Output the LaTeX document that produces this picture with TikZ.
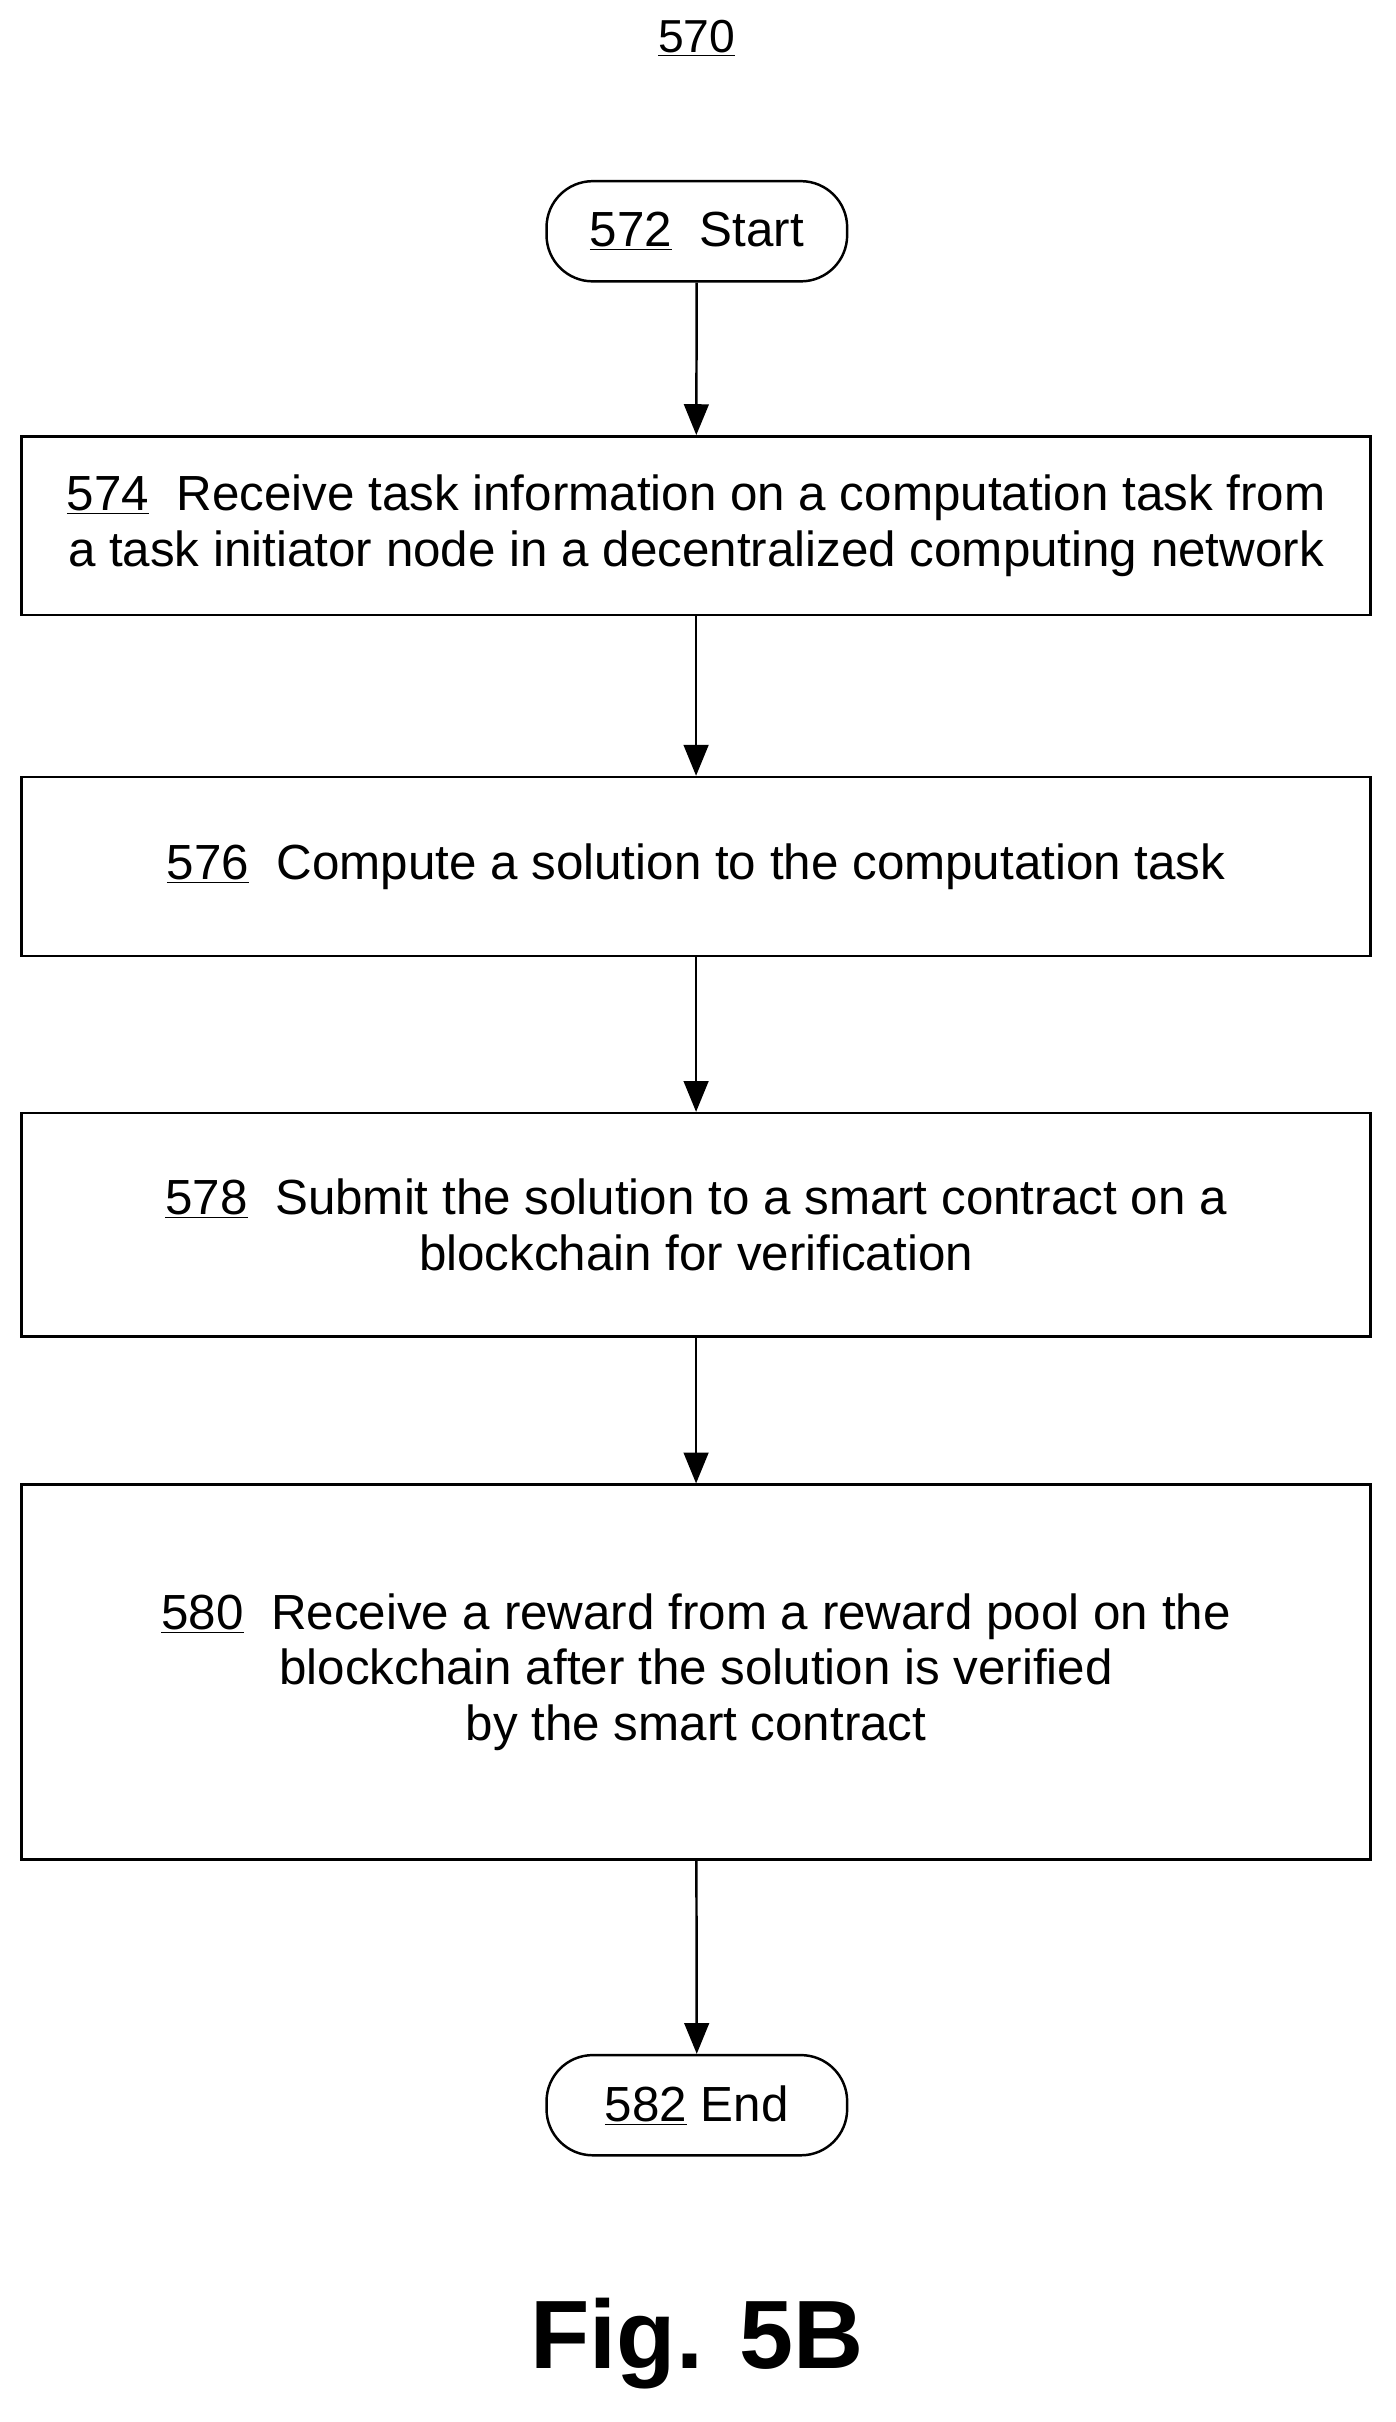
\documentclass[tikz,border=0pt]{standalone}
\usepackage{fontspec}
\setmainfont{Liberation Sans}
\usetikzlibrary{arrows.meta}
\begin{document}
\begin{tikzpicture}[x=1pt,y=-1pt,
  box/.style={draw,line width=1.6pt,inner sep=0pt,align=center,font=\fontsize{32}{36}\selectfont},
  term/.style={box,rounded corners=30pt},
  arr/.style={line width=1.6pt,-{Triangle[length=20pt,width=16pt]}}]
\useasboundingbox (0,0) rectangle (905,1571);
\node[font=\fontsize{30}{36}\selectfont] (t) at (452,25) {\underline{570}};
\node[term,minimum width=195pt,minimum height=65pt] (s) at (452,150) {\underline{572}\ \ Start};
\node[box,minimum width=875pt,minimum height=116pt] (a) at (451.5,341) {\underline{574}\ \ Receive task information on a computation task from\\a task initiator node in a decentralized computing network};
\node[box,minimum width=875pt,minimum height=116pt] (b) at (451.5,562) {\underline{576}\ \ Compute a solution to the computation task};
\node[box,minimum width=875pt,minimum height=145pt] (c) at (451.5,794.5) {\underline{578}\ \ Submit the solution to a smart contract on a\\blockchain for verification};
\node[box,minimum width=875pt,minimum height=243pt] (d) at (451.5,1084.5) {\underline{580}\ \ Receive a reward from a reward pool on the\\blockchain after the solution is verified\\by the smart contract};
\node[term,minimum width=195pt,minimum height=65pt] (e) at (452,1365.5) {\underline{582} End};
\node[font=\bfseries\fontsize{63}{70}\selectfont] (f) at (452,1520) {Fig. 5B};
\draw[arr] (s) -- (a);
\draw[arr] (a) -- (b);
\draw[arr] (b) -- (c);
\draw[arr] (c) -- (d);
\draw[arr] (d) -- (e);
\end{tikzpicture}
\end{document}
